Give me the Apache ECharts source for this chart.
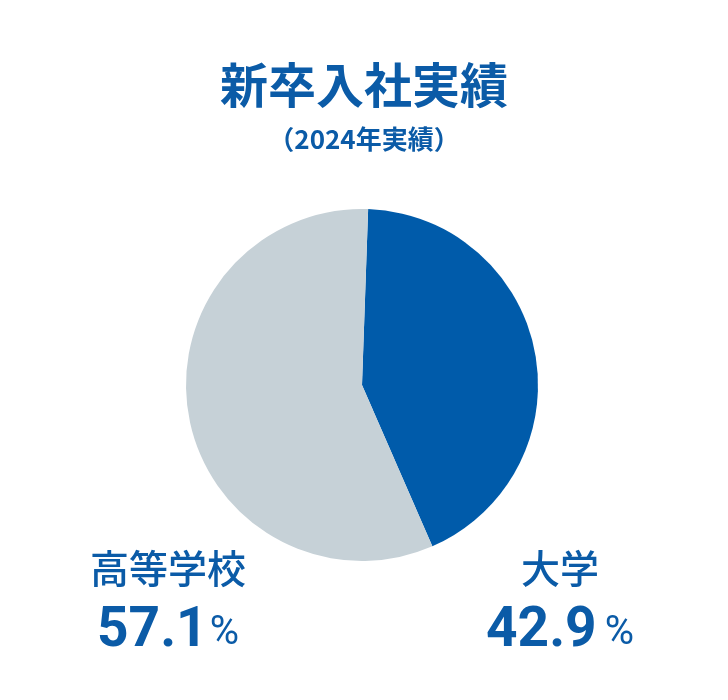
<!DOCTYPE html>
<html lang="ja">
<head>
<meta charset="utf-8">
<title>新卒入社実績</title>
<script src="https://cdn.jsdelivr.net/npm/echarts@6/dist/echarts.min.js"></script>
<style>
  html, body { margin: 0; padding: 0; background: #ffffff; }
  #chart { width: 728px; height: 700px; }
</style>
</head>
<body>
<div id="chart"></div>
<script>
// 2024年 新卒入社者の学歴内訳（%）
const categories = ['大学', '高等学校'];
const shares = [42.9, 57.1];
const sliceColors = ['#005BAA', '#C6D1D7'];

const titleText = '新卒入社実績';
const subtitleText = '（2024年実績）';

const textBlue = '#0B5BA7';
const fontFamily = '"Noto Sans CJK JP", "Noto Sans", sans-serif';
const numFont = 'Roboto, "Noto Sans", sans-serif';

const chart = echarts.init(document.getElementById('chart'), null, { renderer: 'canvas' });

// Category name over its percentage, centred at x
function labelBlock(idx, x, pctGap) {
  return {
    type: 'text',
    style: {
      text: '{name|' + categories[idx] + '}\n{num|' + shares[idx].toFixed(1) + '}{pct|%}',
      x: x,
      y: 539,
      align: 'center',
      rich: {
        name: { fontFamily, fontSize: 39, fontWeight: 500, fill: textBlue, lineHeight: 58, align: 'center' },
        num: { fontFamily: numFont, fontSize: 55, fontWeight: 'bold', fill: textBlue, lineHeight: 70 },
        pct: { fontFamily: numFont, fontSize: 40, fontWeight: 400, fill: textBlue, lineHeight: 70, padding: [4, 0, 0, pctGap] }
      }
    }
  };
}

chart.setOption({
  animation: false,
  backgroundColor: '#ffffff',
  title: [
    {
      text: titleText,
      left: 'center',
      top: 56,
      textStyle: { fontFamily, fontSize: 48, fontWeight: 'bold', color: textBlue }
    },
    {
      text: subtitleText,
      left: 'center',
      top: 121,
      textStyle: { fontFamily, fontSize: 26, fontWeight: 'bold', color: textBlue }
    }
  ],
  series: [{
    type: 'pie',
    center: [362, 385],
    radius: 176,
    startAngle: 88,
    clockwise: true,
    silent: true,
    label: { show: false },
    labelLine: { show: false },
    itemStyle: { borderWidth: 0 },
    data: categories.map((name, i) => ({
      name,
      value: shares[i],
      itemStyle: { color: sliceColors[i] }
    }))
  }],
  graphic: [
    labelBlock(1, 168, 2),
    labelBlock(0, 560, 8)
  ]
});
</script>
</body>
</html>
